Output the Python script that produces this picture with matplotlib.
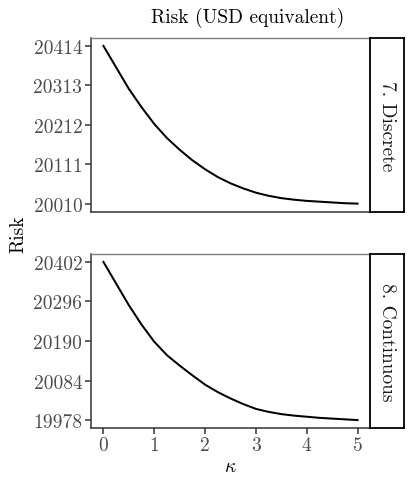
import matplotlib
matplotlib.use("Agg")
import matplotlib.pyplot as plt
import numpy as np

kappa = [0.0, 0.25, 0.5, 0.75, 1.0, 1.25, 1.5, 1.75, 2.0, 2.25, 2.5,
         2.75, 3.0, 3.25, 3.5, 3.75, 4.0, 4.25, 4.5, 4.75, 5.0]
risk_discrete = [20414, 20359, 20304, 20257, 20214, 20178, 20148, 20121, 20098, 20078, 20062,
                 20049, 20038, 20030, 20024, 20020, 20017, 20015, 20013, 20011, 20010]
risk_continuous = [20402, 20344, 20286, 20234, 20188, 20152, 20124, 20098, 20073, 20053, 20036,
                   20021, 20008, 20000, 19994, 19990, 19987, 19984, 19982, 19980, 19978]
panel_labels = ["7. Discrete", "8. Continuous"]
x_ticks = [0, 1, 2, 3, 4, 5]

plt.rcParams['font.family'] = ['cmr10', 'DejaVu Serif']
plt.rcParams['mathtext.fontset'] = 'cm'
plt.rcParams['axes.formatter.use_mathtext'] = True

W, H = 415, 485
fig = plt.figure(figsize=(W/100, H/100), dpi=100)

def fx(px):
    return px / W

def fy(py):
    return 1 - py / H

panels = [(39, 212.5, risk_discrete), (255, 429, risk_continuous)]
left, right, strip_r = 90.7, 370.3, 404
tick_color = '#4D4D4D'

for i, ((top, bot, vals), lab) in enumerate(zip(panels, panel_labels)):
    ax = fig.add_axes([fx(left), fy(bot), fx(right - left), (bot - top) / H])
    ax.plot(kappa, vals, color='black', lw=1.45)
    lo, hi = min(vals), max(vals)
    yt = np.linspace(lo, hi, 5)
    ax.set_yticks(yt)
    ax.set_yticklabels([f"{v:.0f}" for v in yt])
    pad = (hi - lo) * 0.05
    ax.set_ylim(lo - pad, hi + pad)
    ax.set_xlim(-0.25, 5.25)
    ax.set_xticks(x_ticks)
    if i == 1:
        ax.set_xticklabels([str(t) for t in x_ticks])
    else:
        ax.tick_params(axis='x', bottom=False, labelbottom=False)
    ax.tick_params(axis='both', labelsize=14, colors='#333333', labelcolor=tick_color,
                   length=4, width=1.1, pad=2)
    for s in ['top', 'right']:
        ax.spines[s].set_color('#7F7F7F')
        ax.spines[s].set_linewidth(1.0)
    for s in ['left', 'bottom']:
        ax.spines[s].set_color('#333333')
        ax.spines[s].set_linewidth(1.1)
    # strip
    sax = fig.add_axes([fx(right), fy(bot), fx(strip_r - right), (bot - top) / H])
    sax.set_xticks([]); sax.set_yticks([])
    for s in sax.spines.values():
        s.set_color('black'); s.set_linewidth(1.3)
    sax.text(0.5, 0.5, lab, rotation=-90, ha='center', va='center', fontsize=14,
             color='#1A1A1A', transform=sax.transAxes)
    if i == 1:
        ax.set_xlabel(r'$\kappa$', fontsize=14, labelpad=2)

fig.text(fx((left + strip_r) / 2), fy(18), 'Risk (USD equivalent)', ha='center', va='center',
         fontsize=14)
fig.text(fx(18), fy(234), 'Risk', rotation=90, ha='center', va='center', fontsize=14)

fig.savefig('out.png', dpi=100)
